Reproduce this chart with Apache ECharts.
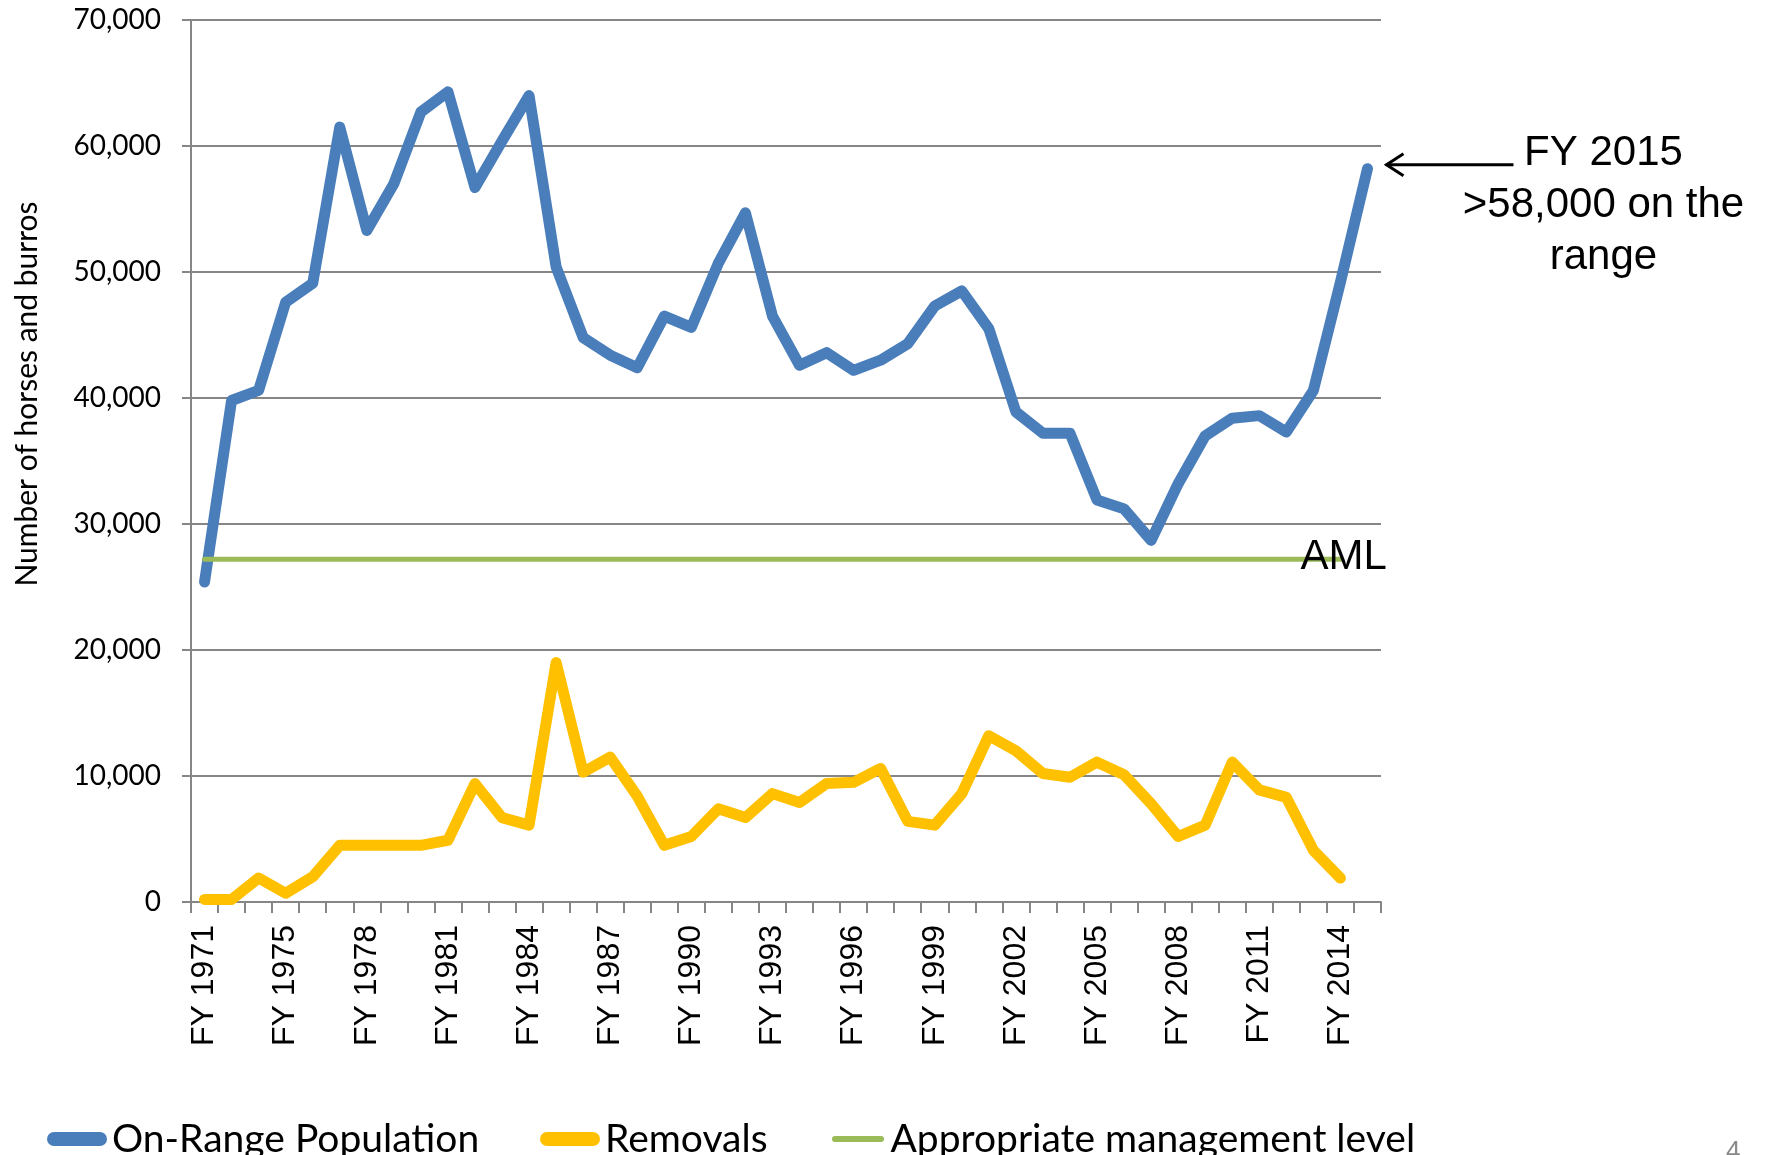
<!DOCTYPE html>
<html>
<head>
<meta charset="utf-8">
<script src="https://cdn.jsdelivr.net/npm/echarts@6/dist/echarts.min.js"></script>
<style>
html,body{margin:0;padding:0;background:#fff;}
#chart{width:1766px;height:1155px;}
</style>
</head>
<body>
<div id="chart"></div>
<script>
const categories = ['FY 1971','FY 1973','FY 1974','FY 1975','FY 1976','FY 1977','FY 1978','FY 1979','FY 1980','FY 1981',
  'FY 1982','FY 1983','FY 1984','FY 1985','FY 1986','FY 1987','FY 1988','FY 1989','FY 1990','FY 1991',
  'FY 1992','FY 1993','FY 1994','FY 1995','FY 1996','FY 1997','FY 1998','FY 1999','FY 2000','FY 2001',
  'FY 2002','FY 2003','FY 2004','FY 2005','FY 2006','FY 2007','FY 2008','FY 2009','FY 2010','FY 2011',
  'FY 2012','FY 2013','FY 2014','FY 2015'];

const onRangePopulation = [25400, 39800, 40600, 47600, 49100, 61500, 53300, 57000, 62700, 64300,
  56700, 60400, 64000, 50400, 44800, 43400, 42400, 46500, 45600, 50700,
  54700, 46500, 42600, 43600, 42200, 43000, 44300, 47300, 48500, 45500,
  38900, 37200, 37200, 31900, 31200, 28700, 33200, 37000, 38400, 38600,
  37300, 40600, 49200, 58200];

const removals = [200, 200, 1900, 700, 2000, 4500, 4500, 4500, 4500, 4900,
  9400, 6700, 6100, 19000, 10300, 11500, 8400, 4500, 5200, 7400,
  6700, 8600, 7900, 9400, 9500, 10600, 6400, 6100, 8600, 13200,
  12000, 10200, 9900, 11100, 10100, 7800, 5200, 6100, 11100, 8900,
  8300, 4100, 1900];

const aml = [27200, 27200, 27200, 27200, 27200, 27200, 27200, 27200, 27200, 27200,
  27200, 27200, 27200, 27200, 27200, 27200, 27200, 27200, 27200, 27200,
  27200, 27200, 27200, 27200, 27200, 27200, 27200, 27200, 27200, 27200,
  27200, 27200, 27200, 27200, 27200, 27200, 27200, 27200, 27200, 27200,
  27200, 27200, 27200];

const yTicks = [0, 10000, 20000, 30000, 40000, 50000, 60000, 70000];
const seriesNames = ['On-Range Population', 'Removals', 'Appropriate management level'];
const yAxisTitle = 'Number of horses and burros';
const calloutText = 'FY 2015\n>58,000 on the\nrange';
const amlText = 'AML';
const slideNumber = '4';

const BLUE = '#4a7ebb', GOLD = '#ffc000', GREEN = '#9bbb59', GRID = '#868686';
const capsule = 'path://M7,0 L53,0 A7,7 0 0 1 53,14 L7,14 A7,7 0 0 1 7,0 Z';
const thinCapsule = 'path://M3,0 L49,0 A3,3 0 0 1 49,6 L3,6 A3,3 0 0 1 3,0 Z';
const legendText = {fontFamily: 'Lato', fontSize: 39, color: '#000', lineHeight: 40};

const chart = echarts.init(document.getElementById('chart'), null, {renderer: 'canvas'});

chart.setOption({
  animation: false,
  backgroundColor: '#fff',
  grid: {left: 191, right: 385, top: 20, bottom: 253, containLabel: false},
  xAxis: {
    type: 'category',
    data: categories,
    boundaryGap: true,
    axisLine: {lineStyle: {color: GRID, width: 2}},
    axisTick: {show: true, interval: 0, length: 11, lineStyle: {color: GRID, width: 2}},
    axisLabel: {interval: 2, rotate: 90, margin: 23, fontFamily: 'Liberation Sans', fontSize: 32, color: '#000'},
    splitLine: {show: false}
  },
  yAxis: {
    type: 'value',
    min: yTicks[0],
    max: yTicks[yTicks.length - 1],
    interval: yTicks[1] - yTicks[0],
    axisLine: {show: true, lineStyle: {color: GRID, width: 2}},
    axisTick: {show: true, length: 9, lineStyle: {color: GRID, width: 2}},
    axisLabel: {margin: 30, fontFamily: 'Lato', fontSize: 28, color: '#000',
      formatter: v => v.toLocaleString('en-US')},
    splitLine: {show: true, lineStyle: {color: GRID, width: 2}}
  },
  legend: [
    {data: [{name: seriesNames[0], icon: capsule}], left: 42, top: 1114, itemWidth: 60, itemHeight: 14,
      textStyle: legendText, selectedMode: false},
    {data: [{name: seriesNames[1], icon: capsule}], left: 535, top: 1114, itemWidth: 60, itemHeight: 14,
      textStyle: legendText, selectedMode: false},
    {data: [{name: seriesNames[2], icon: thinCapsule}], left: 827, top: 1114, itemWidth: 55, itemHeight: 6,
      textStyle: legendText, selectedMode: false}
  ],
  series: [
    {name: seriesNames[0], type: 'line', data: onRangePopulation, color: BLUE, symbol: 'none',
      lineStyle: {color: BLUE, width: 11, cap: 'round', join: 'round'}, z: 3},
    {name: seriesNames[1], type: 'line', data: removals, color: GOLD, symbol: 'none',
      lineStyle: {color: GOLD, width: 11, cap: 'round', join: 'round'}, z: 3},
    {name: seriesNames[2], type: 'line', data: aml, color: GREEN, symbol: 'none',
      lineStyle: {color: GREEN, width: 5, cap: 'round', join: 'round'}, z: 4}
  ]
});

const lastIdx = onRangePopulation.length - 1;
const pLast = chart.convertToPixel({gridIndex: 0}, [lastIdx, onRangePopulation[lastIdx]]);
const amlIdx = aml.length - 1;
const pAml = chart.convertToPixel({gridIndex: 0}, [amlIdx, aml[amlIdx]]);
const tipX = pLast[0] + 19, tipY = pLast[1] - 4;

chart.setOption({
  graphic: [
    {type: 'text', x: 27, y: 394, rotation: Math.PI / 2,
      style: {text: yAxisTitle, font: '30px Lato', fill: '#000', align: 'center', verticalAlign: 'middle'}},
    {type: 'text', x: pLast[0] + 236, y: pLast[1] - 41,
      style: {text: calloutText, font: '42px "Liberation Sans"', fill: '#000', align: 'center', verticalAlign: 'top', lineHeight: 52}},
    {type: 'line', shape: {x1: tipX, y1: tipY, x2: tipX + 127, y2: tipY},
      style: {stroke: '#000', lineWidth: 3}},
    {type: 'polyline', shape: {points: [[tipX + 17, tipY - 11], [tipX, tipY], [tipX + 17, tipY + 11]]},
      style: {stroke: '#000', lineWidth: 3, fill: null}},
    {type: 'text', x: pAml[0] - 40, y: pAml[1] - 2, z: 10,
      style: {text: amlText, font: '42px "Liberation Sans"', fill: '#000', align: 'left', verticalAlign: 'middle'}},
    {type: 'text', x: 1726, y: 1139,
      style: {text: slideNumber, font: '26px "Liberation Sans"', fill: '#898989', align: 'left', verticalAlign: 'top'}}
  ]
});
</script>
</body>
</html>
